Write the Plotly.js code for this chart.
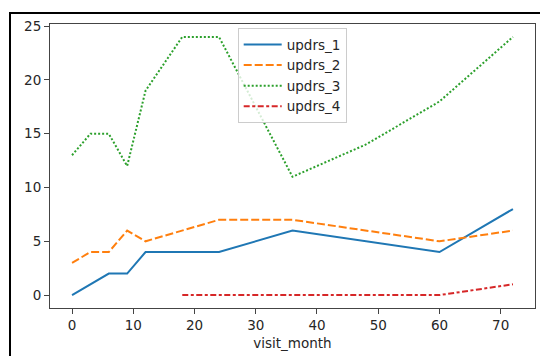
<!DOCTYPE html>
<html>
<head>
<meta charset="utf-8">
<script src="https://cdn.plot.ly/plotly-3.0.1.min.js"></script>
<style>
  html, body { margin: 0; padding: 0; background: #fff; }
  #chart { width: 540px; height: 356px; }
  #frame { position: absolute; left: 9px; top: 12px; width: 600px; height: 400px;
           border: 2px solid #000; pointer-events: none; }
</style>
</head>
<body>
<div id="chart"></div>
<div id="frame"></div>
<script>
const visitMonth = [0, 3, 6, 9, 12, 18, 24, 36, 48, 60, 72];
const updrs1 = [0, 1, 2, 2, 4, 4, 4, 6, 5, 4, 8];
const updrs2 = [3, 4, 4, 6, 5, 6, 7, 7, 6, 5, 6];
const updrs3 = [13, 15, 15, 12, 19, 24, 24, 11, 14, 18, 24];
const updrs4 = [null, null, null, null, null, 0, 0, 0, 0, 0, 1];
const seriesNames = ['updrs_1', 'updrs_2', 'updrs_3', 'updrs_4'];
const xTicks = [0, 10, 20, 30, 40, 50, 60, 70];
const yTicks = [0, 5, 10, 15, 20, 25];

const colors = ['#1f77b4', '#ff7f0e', '#2ca02c', '#d62728'];
const dashes = ['solid', '8px,3px', '2px,2px', '6px,2.5px,3px,2.5px'];
const values = [updrs1, updrs2, updrs3, updrs4];

const traces = values.map((v, i) => ({
  x: visitMonth, y: v, name: seriesNames[i], type: 'scatter', mode: 'lines',
  connectgaps: false,
  line: { color: colors[i], width: 2, dash: dashes[i] }
}));

const font = { family: 'DejaVu Sans, sans-serif', size: 13.5, color: '#262626' };
const layout = {
  width: 540, height: 356,
  margin: { l: 50, r: 5, t: 24, b: 48 },
  paper_bgcolor: '#fff', plot_bgcolor: '#fff',
  font: font,
  showlegend: true,
  legend: {
    x: 0.387, y: 0.985, xanchor: 'left', yanchor: 'top',
    bgcolor: 'rgba(255,255,255,0.8)', bordercolor: '#cccccc', borderwidth: 1,
    font: { family: 'DejaVu Sans, sans-serif', size: 13.5, color: '#262626' },
    itemwidth: 38
  },
  xaxis: {
    range: [-3.6, 75.6], tickvals: xTicks, ticktext: xTicks.map(String),
    showgrid: false, zeroline: false, showline: true, mirror: true,
    linecolor: '#444', linewidth: 1, ticks: 'outside', ticklen: 5, tickcolor: '#444',
    title: { text: 'visit_month', font: font, standoff: 6 }
  },
  yaxis: {
    range: [-1.2, 25.2], tickvals: yTicks, ticktext: yTicks.map(String),
    showgrid: false, zeroline: false, showline: true, mirror: true,
    linecolor: '#444', linewidth: 1, ticks: 'outside', ticklen: 5, tickcolor: '#444'
  }
};
Plotly.newPlot('chart', traces, layout, { displayModeBar: false, staticPlot: true });
</script>
</body>
</html>
